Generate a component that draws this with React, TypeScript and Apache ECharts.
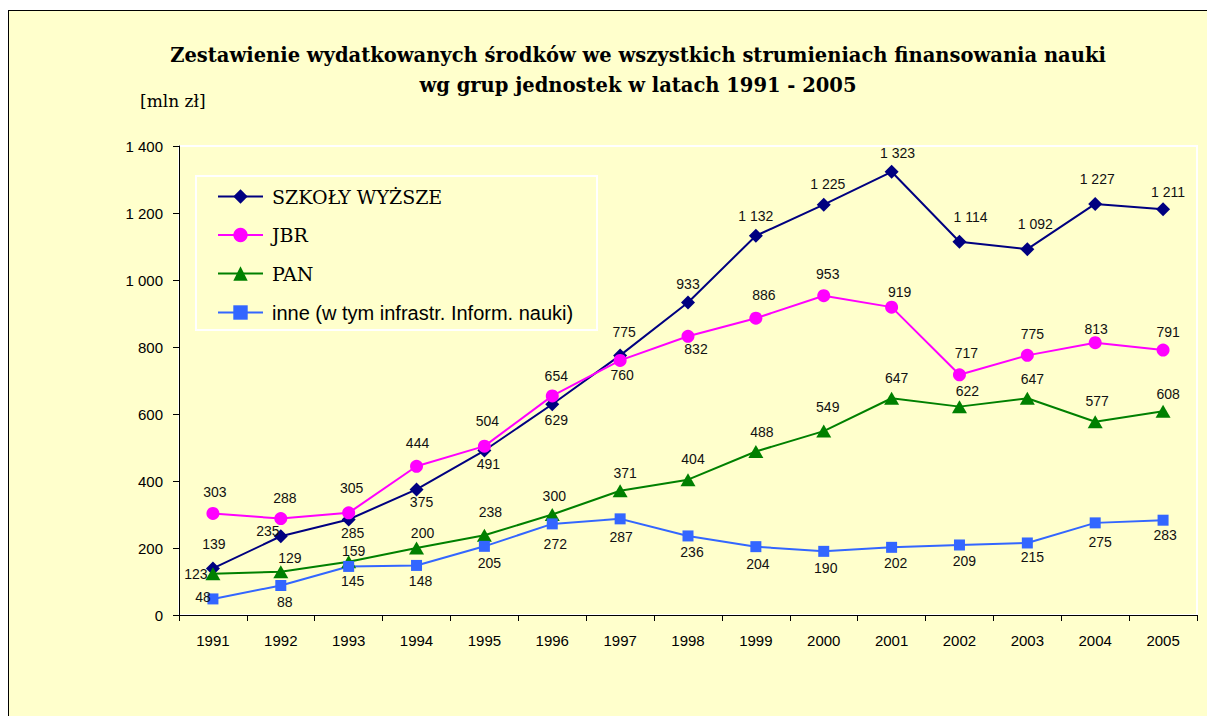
import React, { useEffect, useRef } from "react";
import * as echarts from "echarts";

const years = ["1991", "1992", "1993", "1994", "1995", "1996", "1997", "1998", "1999", "2000", "2001", "2002", "2003", "2004", "2005"];
const seriesNames = ["SZKOŁY WYŻSZE", "JBR", "PAN", "inne (w tym infrastr. Inform. nauki)"];
const szkoly = [139, 235, 285, 375, 491, 629, 775, 933, 1132, 1225, 1323, 1114, 1092, 1227, 1211];
const jbr = [303, 288, 305, 444, 504, 654, 760, 832, 886, 953, 919, 717, 775, 813, 791];
const pan = [123, 129, 159, 200, 238, 300, 371, 404, 488, 549, 647, 622, 647, 577, 608];
const inne = [48, 88, 145, 148, 205, 272, 287, 236, 204, 190, 202, 209, 215, 275, 283];
const yMin = 0;
const yMax = 1400;
const yStep = 200;
const titleText = "Zestawienie wydatkowanych środków we wszystkich strumieniach finansowania nauki\nwg grup jednostek w latach 1991 - 2005";
const unitText = "[mln zł]";

// label offsets (pixels, relative to the marker centre) — styling only
const szkolyLabelOffsets = [[1, -24], [-13, -5], [4, 13], [5, 13], [4, 13], [4, 16], [4, -23], [0, -18], [0, -20], [4, -21], [6, -19], [11, -25], [8, -25], [2, -25], [5, -17]];
const jbrLabelOffsets = [[2, -21], [4, -21], [3, -25], [1, -23], [3, -25], [4, -20], [2, 15], [8, 13], [8, -23], [4, -22], [8, -15], [7, -22], [5, -21], [1, -14], [5, -18]];
const panLabelOffsets = [[-17, 0], [9, -14], [5, -11], [6, -15], [6, -23], [2, -19], [5, -18], [5, -21], [6, -20], [4, -24], [5, -20], [8, -16], [5, -19], [2, -21], [5, -17]];
const inneLabelOffsets = [[-10, -2], [4, 16], [4, 15], [4, 16], [5, 17], [3, 20], [1, 18], [4, 16], [2, 17], [2, 17], [4, 16], [5, 16], [5, 14], [5, 19], [2, 15]];

const SANS = "'Liberation Sans', Arial, sans-serif";
const SERIF = "'DejaVu Serif', 'Liberation Serif', serif";

function fmt(v: number): string {
  const n = Math.round(v);
  if (n >= 1000) {
    return `${Math.floor(n / 1000)} ${String(n % 1000).padStart(3, "0")}`;
  }
  return String(n);
}

function buildData(values: number[], offsets: number[][]) {
  return values.map((v, i) => ({ value: v, label: { offset: offsets[i] } }));
}

function makeSeries(name: string, values: number[], offsets: number[][], color: string, symbol: string, symbolSize: any) {
  return {
    name,
    type: "line",
    data: buildData(values, offsets),
    symbol,
    symbolSize,
    color,
    lineStyle: { color, width: 2 },
    itemStyle: { color },
    label: {
      show: true,
      position: "inside",
      formatter: (p: any) => fmt(p.value),
      color: "#111",
      fontFamily: SANS,
      fontSize: 14,
    },
    emphasis: { disabled: true },
  };
}

export default function App() {
  const ref = useRef<HTMLDivElement>(null);
  useEffect(() => {
    if (!ref.current) return;
    const chart = echarts.init(ref.current, null, { renderer: "svg" });
    chart.setOption({
      animation: false,
      backgroundColor: "#FFFFCC",
      graphic: [
        {
          type: "text",
          x: 629,
          y: 29,
          style: {
            text: titleText,
            fontFamily: SERIF,
            fontWeight: "bold",
            fontSize: 19.5,
            lineHeight: 30,
            textAlign: "center",
            textVerticalAlign: "top",
            fill: "#000",
          },
        },
        {
          type: "text",
          x: 131,
          y: 90,
          style: {
            text: unitText,
            fontFamily: SERIF,
            fontSize: 17,
            textAlign: "left",
            textVerticalAlign: "middle",
            fill: "#000",
          },
        },
        {
          type: "rect",
          shape: { x: 187, y: 165, width: 401, height: 154 },
          style: { fill: "none", stroke: "#FFFFFF", lineWidth: 2 },
          z: 10,
        },
      ],
      legend: {
        orient: "vertical",
        left: 208,
        top: 176,
        padding: 0,
        itemWidth: 45,
        itemHeight: 18,
        itemGap: 19.5,
        selectedMode: false,
        data: seriesNames,
        formatter: (name: string) => (name.startsWith("inne") ? `{sans|${name}}` : `{serif|${name}}`),
        textStyle: {
          rich: {
            serif: { fontFamily: SERIF, fontSize: 19, lineHeight: 20, color: "#000", padding: [0, 0, 0, 4] },
            sans: { fontFamily: SANS, fontSize: 20, lineHeight: 20, color: "#000", padding: [0, 0, 0, 4] },
          },
        },
      },
      grid: {
        left: 170,
        right: 10,
        top: 135,
        bottom: 101,
        show: true,
        borderColor: "#FFFFFF",
        borderWidth: 2,
        backgroundColor: "transparent",
        containLabel: false,
      },
      xAxis: {
        type: "category",
        data: years,
        boundaryGap: true,
        axisLine: { lineStyle: { color: "#000", width: 1 } },
        axisTick: { show: true, length: 6, lineStyle: { color: "#000" } },
        axisLabel: { color: "#000", fontFamily: SANS, fontSize: 15, margin: 18 },
        splitLine: { show: false },
      },
      yAxis: {
        type: "value",
        min: yMin,
        max: yMax,
        interval: yStep,
        axisLine: { show: true, lineStyle: { color: "#000", width: 1 } },
        axisTick: { show: true, length: 6, lineStyle: { color: "#000" } },
        axisLabel: { color: "#000", fontFamily: SANS, fontSize: 15, margin: 16, formatter: (v: number) => fmt(v) },
        splitLine: { show: false },
      },
      series: [
        makeSeries(seriesNames[0], szkoly, szkolyLabelOffsets, "#000080", "diamond", 14),
        makeSeries(seriesNames[1], jbr, jbrLabelOffsets, "#FF00FF", "circle", 13),
        makeSeries(seriesNames[2], pan, panLabelOffsets, "#008000", "triangle", [15, 13]),
        makeSeries(seriesNames[3], inne, inneLabelOffsets, "#3366FF", "rect", 11),
      ],
    });
    return () => chart.dispose();
  }, []);
  return (
    <div
      style={{
        position: "fixed",
        left: 8,
        top: 10,
        width: 1199,
        height: 706,
        boxSizing: "border-box",
        borderLeft: "1px solid #000",
        borderTop: "1px solid #000",
        background: "#FFFFCC",
      }}
    >
      <div ref={ref} style={{ width: 1198, height: 705 }} />
    </div>
  );
}
